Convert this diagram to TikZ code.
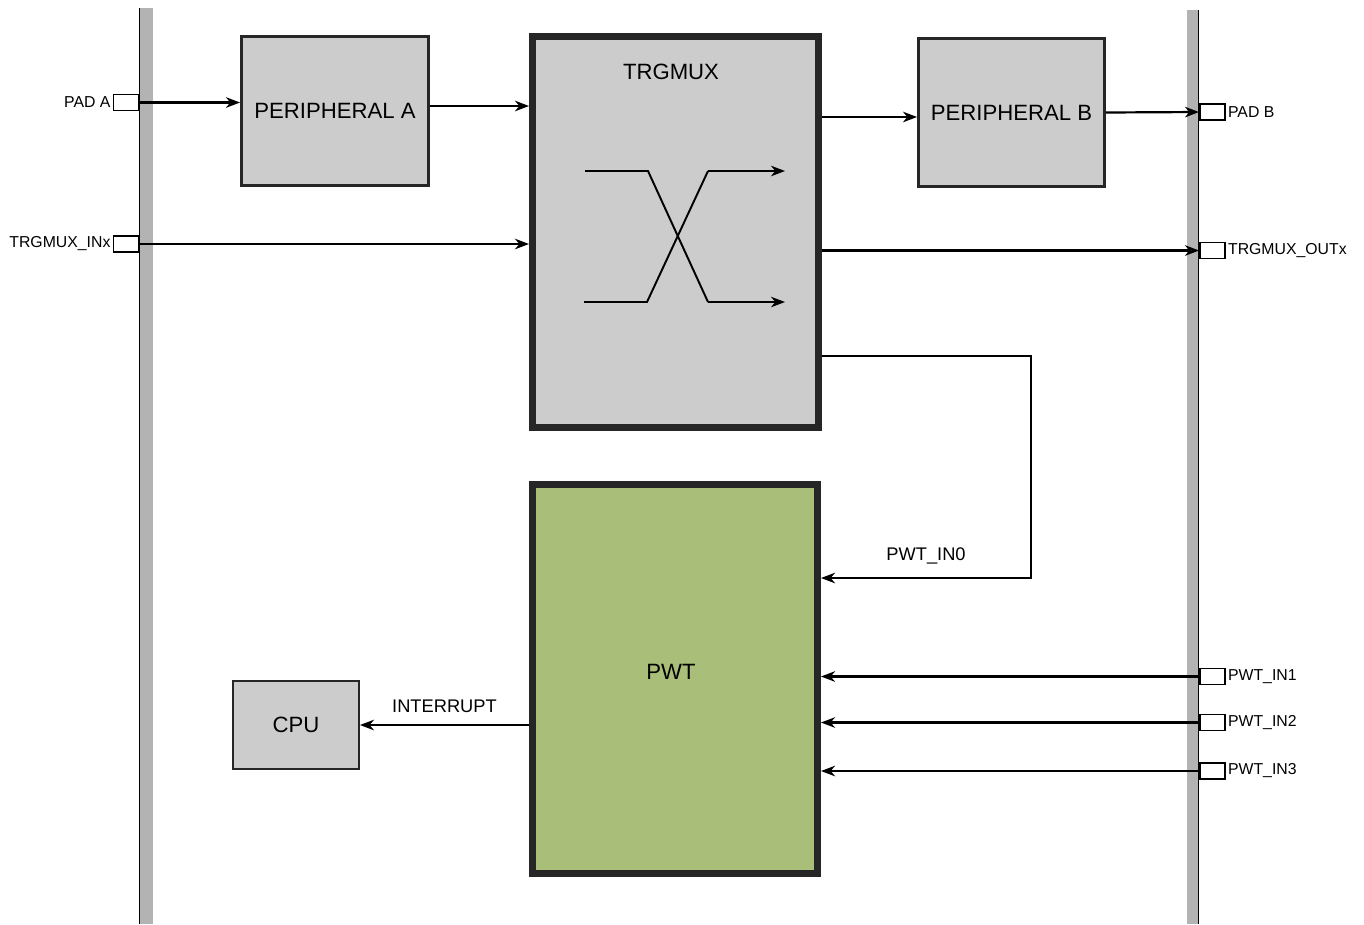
\documentclass[tikz,border=0pt]{standalone}
\usepackage{fontspec}
\setmainfont{Liberation Sans}
\usetikzlibrary{positioning, arrows.meta, calc}
\definecolor{blockfill}{HTML}{CCCCCC}
\definecolor{pwtfill}{HTML}{A9BE78}
\definecolor{busgray}{HTML}{B3B3B3}
\definecolor{edgecol}{HTML}{262626}
\tikzset{
    block/.style={
        draw=edgecol, fill=blockfill,
        line width=1.7pt, inner sep=0pt,
        font=\fontsize{12.6}{15}\selectfont,
    },
    mux/.style={
        block, line width=4pt,
    },
    pad/.style={
        draw=black, fill=white, line width=1.1pt,
        minimum width=0.5cm, minimum height=0.32cm, inner sep=0pt,
    },
    padlabel/.style={
        font=\fontsize{9}{11}\selectfont, inner sep=1pt,
    },
    siglabel/.style={
        font=\fontsize{10.4}{12}\selectfont, inner sep=0pt,
    },
    flow/.style={
        -{Stealth[length=8pt, width=6pt, inset=2.5pt]},
        line width=1.25pt,
    },
    xwire/.style={
        line width=1.1pt,
    },
    bus/.style={
        fill=busgray, draw=none,
    },
}

\begin{document}
\begin{tikzpicture}[x=0.02cm, y=-0.02cm]
\useasboundingbox (0,0) rectangle (1364,924);

% =============================================
% Pin buses, left and right
% =============================================
\fill[bus] (140,8) rectangle (153,924);
\draw[line width=0.6pt] (139.5,8) -- (139.5,924);
\fill[bus] (1187,10) rectangle (1198,924);
\draw[line width=0.6pt] (1198.5,10) -- (1198.5,924);

% =============================================
% Blocks
% =============================================
\node[block, minimum width=3.74cm, minimum height=2.98cm] (periphA) at (335,111) {PERIPHERAL A};
\node[block, minimum width=3.72cm, minimum height=2.96cm] (periphB) at (1011.5,112.5) {PERIPHERAL B};
\node[mux, minimum width=5.72cm, minimum height=7.82cm] (trgmux) at (675.5,232) {};
\node[font=\fontsize{12.6}{15}\selectfont] (trgmuxlbl) at (671,72) {TRGMUX};
\node[mux, fill=pwtfill, minimum width=5.7cm, minimum height=7.78cm] (pwt) at (675,679) {};
\node[font=\fontsize{12.6}{15}\selectfont] (pwtlbl) at (671,672) {PWT};
\node[block, line width=1.1pt, minimum width=2.52cm, minimum height=1.76cm] (cpu) at (296,725) {CPU};

% =============================================
% Pads
% =============================================
\node[pad, label={[padlabel]left:PAD A}] (padA) at (126,102.5) {};
\node[pad, label={[padlabel]left:TRGMUX\_INx}] (trgin) at (126,244) {};
\node[pad, label={[padlabel]right:PAD B}] (padB) at (1212.5,112) {};
\node[pad, label={[padlabel]right:TRGMUX\_OUTx}] (trgout) at (1212.5,250.5) {};
\node[pad, label={[padlabel]right:PWT\_IN1}] (pwtin1) at (1212.5,676.5) {};
\node[pad, label={[padlabel]right:PWT\_IN2}] (pwtin2) at (1212.5,722.5) {};
\node[pad, label={[padlabel]right:PWT\_IN3}] (pwtin3) at (1212.5,771) {};

% =============================================
% Crossbar inside TRGMUX
% =============================================
\draw[xwire] (585,171) -- (648,171) -- (708,302);
\draw[xwire] (584,302) -- (647,302) -- (708,171);
\draw[flow, xwire] (708,171) -- (785,171);
\draw[flow, xwire] (708,302) -- (785,302);

% =============================================
% Trigger paths
% =============================================
\draw[flow] (padA.east) -- (padA.east -| periphA.west);
\draw[flow] ([yshift=0.1cm]periphA.east) -- ([yshift=0.1cm]periphA.east -| trgmux.west);
\draw[flow] (trgin.east) -- (trgin.east -| trgmux.west);
\draw[flow] ([yshift=-0.09cm]periphB.west -| trgmux.east) -- ([yshift=-0.09cm]periphB.west);
\draw[flow] (periphB.east) -- (padB.west);
\draw[flow] (trgout.west -| trgmux.east) -- (trgout.west);

% TRGMUX -> PWT_IN0
\coordinate (in0top) at (1031,356);
\coordinate (in0bot) at (1031,578);
\draw[flow] (in0top -| trgmux.east) -- (in0top) -- (in0bot)
    -- node[siglabel, above=0.25cm] {PWT\_IN0} (in0bot -| pwt.east);

% PWT inputs from pins
\draw[flow] (pwtin1.west) -- (pwtin1.west -| pwt.east);
\draw[flow] (pwtin2.west) -- (pwtin2.west -| pwt.east);
\draw[flow] (pwtin3.west) -- (pwtin3.west -| pwt.east);

% PWT -> CPU
\draw[flow] (cpu.east -| pwt.west) -- node[siglabel, above=0.22cm] {INTERRUPT} (cpu.east);

\end{tikzpicture}
\end{document}
